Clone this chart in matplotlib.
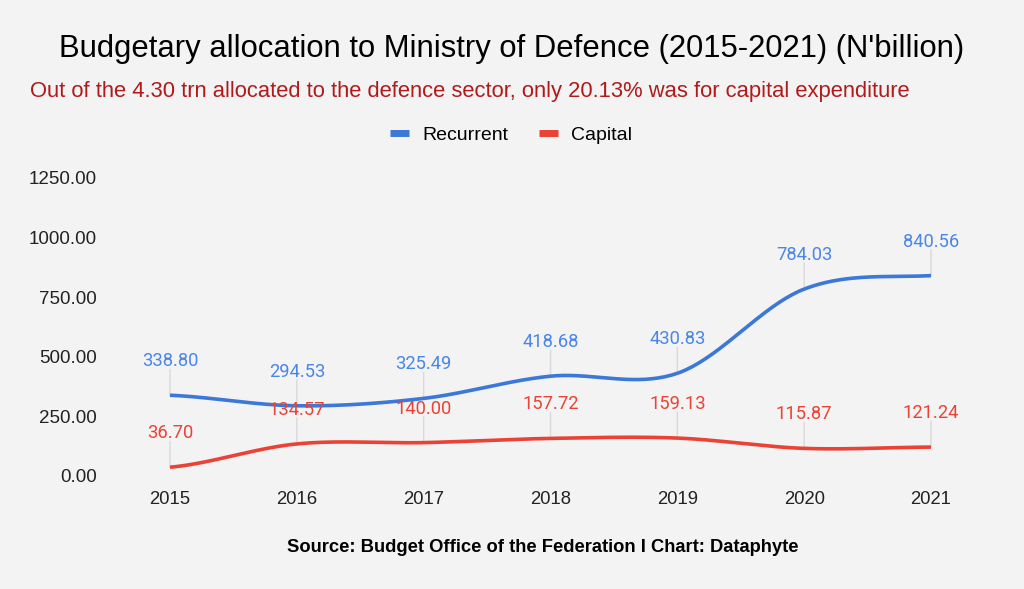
import numpy as np
import matplotlib
matplotlib.use("Agg")
import matplotlib.pyplot as plt
from matplotlib.lines import Line2D

years = [2015, 2016, 2017, 2018, 2019, 2020, 2021]
recurrent = [338.80, 294.53, 325.49, 418.68, 430.83, 784.03, 840.56]
capital = [36.70, 134.57, 140.00, 157.72, 159.13, 115.87, 121.24]
yticks = [0, 250, 500, 750, 1000, 1250]

title = "Budgetary allocation to Ministry of Defence (2015-2021) (N'billion)"
subtitle = "Out of the 4.30 trn allocated to the defence sector, only 20.13% was for capital expenditure"
source = "Source: Budget Office of the Federation I Chart: Dataphyte"

BLUE = "#3c78d8"
RED = "#ea4335"
BLUE_T = "#4a86e8"
RED_T = "#ea4335"
BG = "#f3f3f3"


def smooth(xs, ys, n=40):
    xs = np.asarray(xs, float)
    ys = np.asarray(ys, float)
    m = np.zeros_like(ys)
    for i in range(len(ys)):
        if i == 0:
            m[i] = (ys[1] - ys[0]) / (xs[1] - xs[0]) / 2
        elif i == len(ys) - 1:
            m[i] = (ys[-1] - ys[-2]) / (xs[-1] - xs[-2]) / 2
        else:
            m[i] = (ys[i + 1] - ys[i - 1]) / (xs[i + 1] - xs[i - 1])
    ox, oy = [], []
    for i in range(len(ys) - 1):
        h = xs[i + 1] - xs[i]
        t = np.linspace(0, 1, n, endpoint=False)
        h00 = 2 * t**3 - 3 * t**2 + 1
        h10 = t**3 - 2 * t**2 + t
        h01 = -2 * t**3 + 3 * t**2
        h11 = t**3 - t**2
        ox.extend(xs[i] + t * h)
        oy.extend(h00 * ys[i] + h10 * h * m[i] + h01 * ys[i + 1] + h11 * h * m[i + 1])
    ox.append(xs[-1])
    oy.append(ys[-1])
    return np.array(ox), np.array(oy)


W, H = 1024, 589
fig = plt.figure(figsize=(W / 100, H / 100), dpi=100, facecolor=BG)
ax_l, ax_r, ax_b, ax_t = 120, 980, 476, 178
ax = fig.add_axes([ax_l / W, (H - ax_b) / H, (ax_r - ax_l) / W, (ax_b - ax_t) / H])
ax.set_facecolor(BG)

px_per_year = (931 - 170) / 6
ax.set_xlim(2015 - (170 - ax_l) / px_per_year, 2021 + (ax_r - 931) / px_per_year)
ax.set_ylim(0, 1250)

for vals, c in [(recurrent, BLUE), (capital, RED)]:
    sx, sy = smooth(years, vals)
    ax.plot(sx, sy, color=c, lw=2.6, solid_capstyle="butt", zorder=3)

pt = 72 / 100
for vals, c in [(recurrent, BLUE_T), (capital, RED_T)]:
    for x, v in zip(years, vals):
        ax.annotate("", xy=(x, v), xytext=(0, 26 * pt), textcoords="offset points",
                    arrowprops=dict(arrowstyle="-", color="#d9d9d9", lw=1,
                                    shrinkA=0, shrinkB=0), zorder=2)
        ax.annotate(f"{v:.2f}", xy=(x, v), xytext=(0, 34 * pt), textcoords="offset points",
                    ha="center", va="center", color=c, fontsize=13.2,
                    family="Roboto", zorder=4)

ax.set_yticks(yticks)
ax.set_yticklabels([f"{t:.2f}" for t in yticks], family="Liberation Sans",
                   fontsize=13.5, color="#222222")
ax.set_xticks(years)
ax.set_xticklabels([str(y) for y in years], family="Liberation Sans",
                   fontsize=13.3, color="#222222")
ax.tick_params(axis="y", length=0, pad=16.5)
ax.tick_params(axis="x", length=0, pad=11)
for s in ax.spines.values():
    s.set_visible(False)

fig.text(0.5, 1 - 49 / H, title, ha="center", va="center", fontsize=22.3,
         family="Liberation Sans", color="#000000")
fig.text(30 / W, 1 - 92 / H, subtitle, ha="left", va="center", fontsize=15.85,
         family="Liberation Sans", color="#b01a1a")
fig.text(543 / W, 1 - 548 / H, source, ha="center", va="center", fontsize=13.2,
         family="Liberation Sans", weight="bold", color="#000000")

handles = [Line2D([0], [0], color=BLUE, lw=5, solid_capstyle="butt"),
           Line2D([0], [0], color=RED, lw=5, solid_capstyle="butt")]
fig.legend(handles, ["Recurrent", "Capital"], loc="center",
           bbox_to_anchor=(511 / W, 1 - 135 / H), ncol=2, frameon=False,
           handlelength=0.98, handletextpad=0.67, columnspacing=1.6,
           prop={"family": "Liberation Sans", "size": 14})

fig.savefig("out.png", dpi=100, facecolor=BG)
